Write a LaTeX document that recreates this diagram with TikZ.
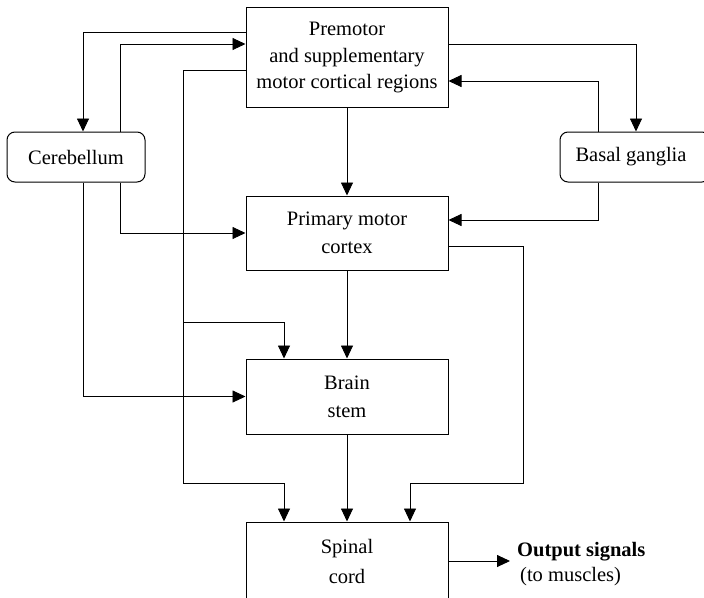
\documentclass[tikz,border=0pt]{standalone}
\usepackage{fontspec}
\setmainfont{Liberation Serif}
\usetikzlibrary{arrows.meta}
\begin{document}
\begin{tikzpicture}[x=1pt,y=-1pt,
  txt/.style={font=\fontsize{20.5}{28}\selectfont},
  box/.style={draw,line width=1pt,inner sep=0pt,align=center,txt},
  rbox/.style={box,rounded corners=8pt},
  conn/.style={line width=0.9pt},
  arr/.style={conn,-{Triangle[length=13pt,width=12pt]}}]
\useasboundingbox (0,0) rectangle (704,597);
\clip (0,0) rectangle (704,597);
% nodes
\node[box,minimum width=202pt,minimum height=100pt] (pre) at (347,57)
  {Premotor\\[-1pt]and supplementary\\[-2pt]motor cortical regions};
\node[box,minimum width=202pt,minimum height=74pt] (prim) at (347,233)
  {Primary motor\\cortex};
\node[box,minimum width=202pt,minimum height=75pt] (brain) at (347,396.5)
  {Brain\\stem};
\node[box,minimum width=202pt,minimum height=78pt] (spinal) at (347,561)
  {Spinal\\[2pt]cord};
\node[rbox,minimum width=138pt,minimum height=50pt] (cereb) at (76,157)
  {Cerebellum};
\node[rbox,minimum width=150pt,minimum height=50pt] (basal) at (635,157)
  {\hspace*{-8pt}Basal ganglia};
\node[txt,anchor=west,inner sep=0pt,inner xsep=7pt,font=\fontsize{20.5}{28}\selectfont\bfseries] (out) at (510,552) {Output signals};
\node[txt,anchor=west,inner sep=0pt] (mus) at (520,577) {(to muscles)};
\coordinate (j) at (183,322);
% connectors
\draw[arr] (pre.west |- 0,32) -| (cereb.north -| 83,0);
\draw[arr] (cereb.north -| 120,0) |- (pre.west |- 0,44);
\draw[arr] (pre.west |- 0,70) -| (183,483) -| (spinal.north -| 284,0);
\draw[arr] (j) -| (brain.north -| 284,0);
\draw[arr] (pre.south) -- (prim.north);
\draw[arr] (pre.east |- 0,44) -| (basal.north -| 636,0);
\draw[arr] (basal.north -| 598,0) |- (pre.east |- 0,81);
\draw[arr] (basal.south -| 598,0) |- (prim.east |- 0,220);
\draw[arr] (cereb.south -| 120,0) |- (prim.west);
\draw[arr] (cereb.south -| 83,0) |- (brain.west);
\draw[arr] (prim.south) -- (brain.north);
\draw[arr] (prim.east |- 0,246) -| (523,483) -| (spinal.north -| 410,0);
\draw[arr] (brain.south) -- (spinal.north);
\draw[arr] (spinal.east) -- (spinal.east -| out.west);
\end{tikzpicture}
\end{document}
